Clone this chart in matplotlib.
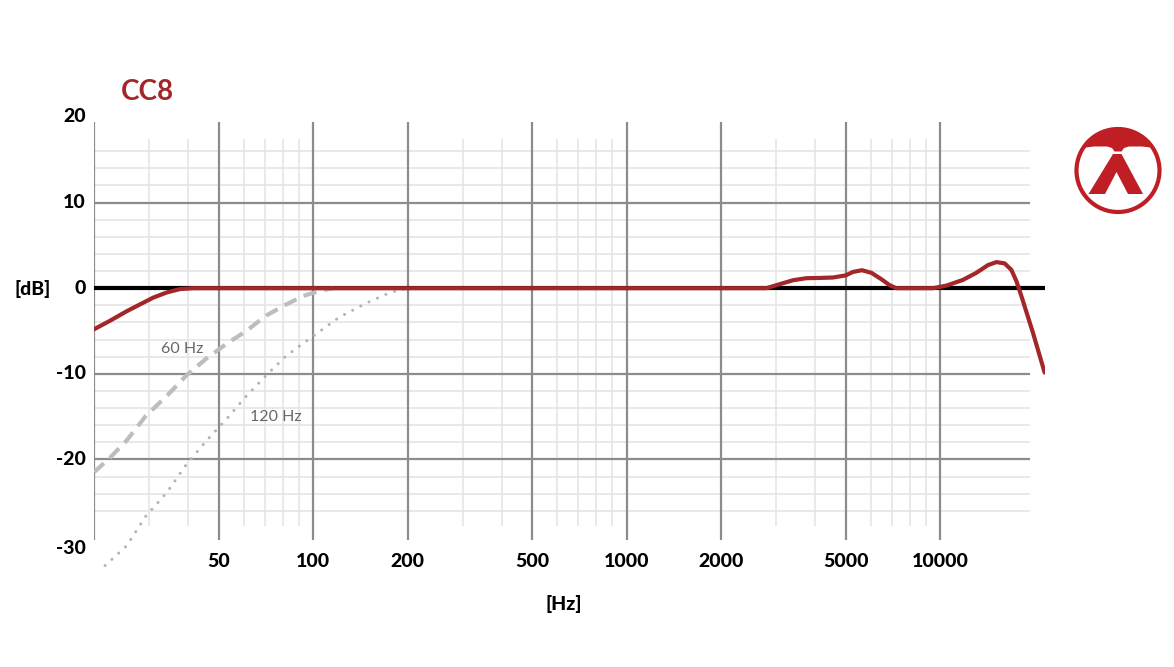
import matplotlib
matplotlib.use('Agg')
import matplotlib.pyplot as plt
from matplotlib.patches import Circle, Polygon
import numpy as np

plt.rcParams['font.family'] = ['Lato', 'DejaVu Sans']

# --- data ---
freq_cc8 = [20, 22.5, 25.4, 28.0, 30.9, 34.1, 37.6, 41.5, 50, 100, 500, 1000, 2000,
            2790, 3077, 3393, 3743, 4127, 4550, 5000, 5270, 5630, 6034, 6494, 6903,
            7249, 9484, 10464, 11822, 13047, 14210, 15115, 16060, 16866, 17500,
            18155, 19770, 21540]
db_cc8 = [-4.8, -3.8, -2.7, -1.9, -1.1, -0.5, -0.1, 0, 0, 0, 0, 0, 0,
          0, 0.47, 0.93, 1.17, 1.2, 1.25, 1.5, 1.9, 2.1, 1.8, 1.05, 0.35,
          0, 0, 0.3, 0.97, 1.8, 2.7, 3.05, 2.9, 2.15, 0.85,
          -0.9, -5.2, -9.85]

freq_hp60 = [20, 22.5, 25.4, 29.3, 34.1, 39.4, 45.7, 52.9, 61.2, 70.8, 82.0, 93.1, 105, 116]
db_hp60 = [-21.5, -19.8, -17.8, -14.9, -12.6, -10.2, -8.2, -6.5, -5.0, -3.2, -1.9, -0.9, -0.3, 0]

freq_hp120 = [21.7, 25.4, 29.3, 34.1, 39.4, 45.7, 52.9, 61.2, 70.8, 82.0, 100, 121, 148.6, 176, 200]
db_hp120 = [-32.4, -30.1, -26.6, -23.9, -20.6, -17.8, -15.3, -12.6, -10.2, -7.9, -5.6, -3.4, -1.7, -0.5, 0]

major_freqs = [20, 50, 100, 200, 500, 1000, 2000, 5000, 10000]
minor_freqs = [30, 40, 60, 70, 80, 90, 300, 400, 600, 700, 800, 900,
               3000, 4000, 6000, 7000, 8000, 9000]
xtick_freqs = [50, 100, 200, 500, 1000, 2000, 5000, 10000]
ytick_db = [20, 10, 0, -10, -20, -30]
major_db = [10, -10, -20]
minor_db = [16, 14, 12, 8, 6, 4, 2, -2, -4, -6, -8, -12, -14, -16, -18, -22, -24, -26]

RED = '#A3262A'
LOGO_RED = '#BF1E24'
GRID_MAJOR = '#8C8C8C'
GRID_MINOR = '#E5E5E5'
GRAY_CURVE = '#BDBDBD'

W, H = 1174, 667
fig = plt.figure(figsize=(W / 100, H / 100), dpi=100)
fig.patch.set_facecolor('white')


def px(x, y):
    return x / W, 1 - y / H


# plot area: 20 Hz at x=94, 20 dB at y=117, 8.56 px per dB
left, right, top, bottom = 94, 1045, 117, 570.7
ax = fig.add_axes([left / W, 1 - bottom / H, (right - left) / W, (bottom - top) / H])
ax.set_xscale('log')
ax.set_xlim(20, 21600)
ax.set_ylim(-33, 20)
ax.axis('off')

# grid
ax.vlines(minor_freqs, -27.8, 17.4, color=GRID_MINOR, lw=1.2, zorder=1)
ax.hlines(minor_db, 20, 19300, color=GRID_MINOR, lw=1.2, zorder=1)
ax.vlines(major_freqs, -29.4, 19.4, color=GRID_MAJOR, lw=1.6, zorder=2)
ax.hlines(major_db, 20, 19300, color=GRID_MAJOR, lw=1.6, zorder=2)
ax.hlines(0, 20, 21600, color='black', lw=3, zorder=3)

# high-pass filter curves
ax.plot(freq_hp60, db_hp60, color=GRAY_CURVE, lw=3, linestyle=(0, (3.2, 1.9)),
        dash_capstyle='butt', zorder=4)
ax.plot(freq_hp120, db_hp120, color='#B3B3B3', lw=2.2, linestyle=(0, (0.01, 3.0)),
        dash_capstyle='round', zorder=4)
ax.text(38.1, -7.05, '60 Hz', fontsize=11.5, color='#666666', ha='center', va='center', zorder=5)
ax.text(76.1, -15.1, '120 Hz', fontsize=11.5, color='#666666', ha='center', va='center', zorder=5)

# frequency response
ax.plot(freq_cc8, db_cc8, color=RED, lw=3, solid_capstyle='round', zorder=6)

# tick labels
for f in xtick_freqs:
    ax.text(f, -31.9, str(f), fontsize=14, fontweight='black', ha='center', va='center')
for d in ytick_db:
    ax.text(18.8, d - (0.4 if d == -30 else 0), str(d), fontsize=14, fontweight='black',
            ha='right', va='center')

fig.text(*px(33, 289), '[dB]', fontsize=14, fontweight='black', ha='center', va='center')
fig.text(*px(564, 604), '[Hz]', fontsize=14, fontweight='black', ha='center', va='center')
fig.text(*px(147, 92), 'CC8', fontsize=20, fontweight='bold', color=RED, ha='center', va='center')

# logo
lx0, ly0, lx1, ly1 = 1066, 120, 1170, 222
lax = fig.add_axes([lx0 / W, 1 - ly1 / H, (lx1 - lx0) / W, (ly1 - ly0) / H])
lax.set_xlim(lx0, lx1)
lax.set_ylim(ly1, ly0)
lax.axis('off')
cx, cy, r = 1118, 170.5, 43.5
lax.add_patch(Circle((cx, cy), r - 2, fill=False, ec=LOGO_RED, lw=3))
ri = r - 3.5
theta = np.linspace(np.radians(-35), np.radians(-145), 40)
cap = [(cx + ri * np.cos(t), cy + ri * np.sin(t)) for t in theta]
cap += [(cx - 24, 146.5), (cx - 11, 146.5), (cx - 6, 148), (cx - 3.5, 151.5),
        (cx + 3.5, 151.5), (cx + 6, 148), (cx + 11, 146.5), (cx + 24, 146.5)]
lax.add_patch(Polygon(cap, closed=True, fc=LOGO_RED, ec='none'))
lam = [(cx - 29.5, 194), (cx - 5, 154), (cx + 3.5, 154), (cx + 25, 194), (cx + 10, 194),
       (cx - 1.5, 172), (cx - 13, 194)]
lax.add_patch(Polygon(lam, closed=True, fc=LOGO_RED, ec='none'))

plt.savefig('out.png', dpi=100, facecolor='white')
